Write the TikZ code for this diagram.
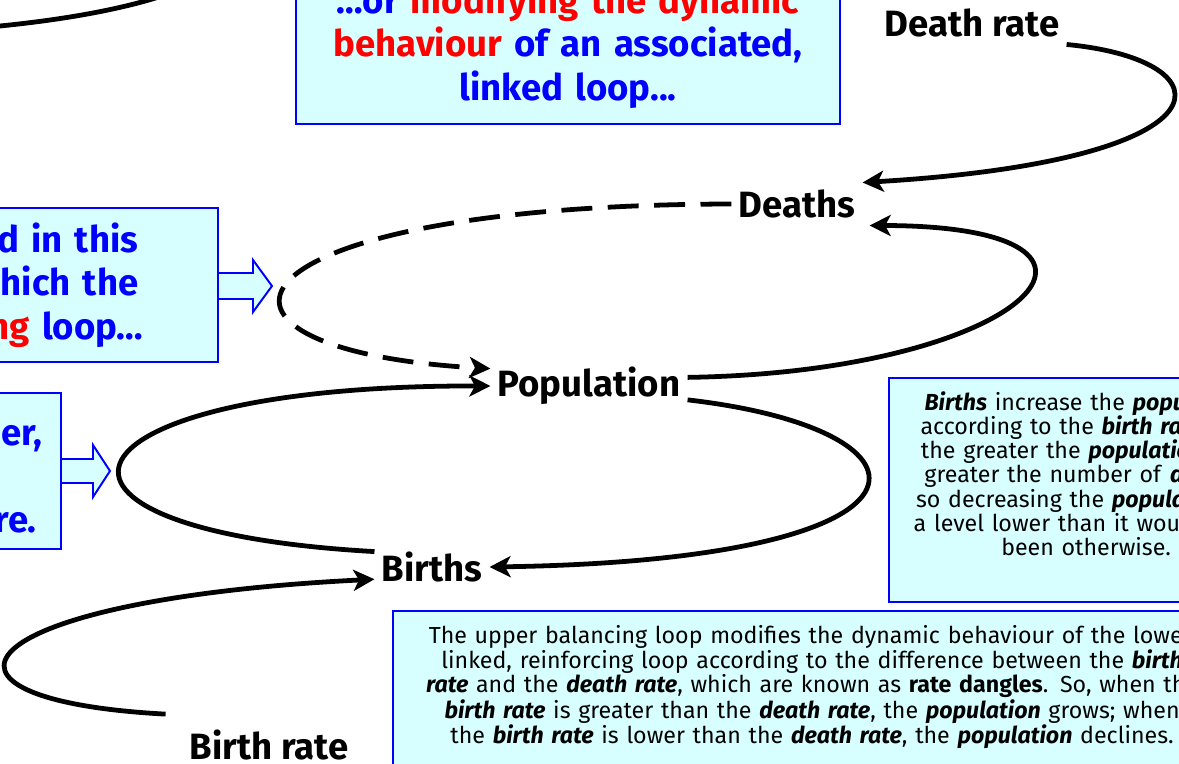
\documentclass[tikz,border=0pt]{standalone}
\usepackage{fontspec}
\setmainfont{Fira Sans}
\usetikzlibrary{arrows.meta}
\definecolor{notefill}{RGB}{216,255,255}
\definecolor{noteblue}{RGB}{0,0,255}
\definecolor{notered}{RGB}{255,0,0}
\tikzset{
	var/.style={font=\fontsize{26}{30}\selectfont\bfseries, inner sep=5pt}, % loop variables
	link/.style={-{Stealth[length=15pt,width=15pt,inset=4pt]}, line width=3.4pt},
	dangle/.style={link, dash pattern=on 22pt off 11pt}, % the dashed link
	callout/.style={draw=noteblue, fill=notefill, line width=1.4pt, align=center,
		text=noteblue, font=\fontsize{26}{31}\selectfont\bfseries},
	explain/.style={draw=noteblue, fill=notefill, line width=1.4pt, align=center,
		inner ysep=10pt, font=\fontsize{16.5}{16.3}\selectfont},
	pointer/.style={draw=noteblue, fill=notefill, line width=1.4pt, line join=miter}
}
\newcommand{\bi}[1]{\textbf{\textit{#1}}}

\begin{document}
\begin{tikzpicture}[x=0.025cm, y=-0.025cm]
	\useasboundingbox (0,0) rectangle (1179,764);
	\clip (0,0) rectangle (1179,764);

	% notes
	\node[callout, minimum width=13.6cm, minimum height=3.875cm, text width=13cm] (linked) at (568,46)
		{…or \textcolor{notered}{modifying the dynamic}\\\textcolor{notered}{behaviour} of an associated,\\linked loop...};
	\node[callout, anchor=east, minimum width=13.55cm, minimum height=3.85cm, text width=13cm] (upper) at (219,285)
		{as is illustrated in this\\structure, in which the\\upper, \textcolor{notered}{balancing} loop…};
	\node[callout, anchor=east, inner xsep=0pt, minimum height=3.9cm, text width=15.35cm] (lower) at (62,471)
		{\mbox{}\\Two loops can be linked together,\\as shown here,\\into one more complex structure.};
	\node[explain, anchor=north west, minimum width=9.85cm, text width=9.6cm,
		font=\fontsize{16.5}{17.1}\selectfont] (feedback) at (888,377)
		{\bi{Births} increase the \bi{population}\\according to the \bi{birth rate}; but\\the greater the \bi{population}, the\\greater the number of \bi{deaths},\\so decreasing the \bi{population} to\\a level lower than it would have\\been otherwise.\\[6pt]\mbox{}};
	\node[explain, anchor=north west, minimum width=20.95cm, text width=20.6cm] (dangles) at (392,610)
		{The upper balancing loop modifies the dynamic behaviour of the lower,\\linked, reinforcing loop according to the difference between the \bi{birth}\\\bi{rate} and the \bi{death rate}, which are known as \textbf{rate dangles}. So, when the\\\bi{birth rate} is greater than the \bi{death rate}, the \bi{population} grows; when\\the \bi{birth rate} is lower than the \bi{death rate}, the \bi{population} declines.\\[30pt]\mbox{}};

	% block arrows from the notes
	\draw[pointer] (upper.east) ++(0,-12) -- ++(34,0) -- ++(0,-13) -- ++(19,26) -- ++(-19,26) -- ++(0,-13) -- ++(-34,0);
	\draw[pointer] (lower.east) ++(0,-12) -- ++(31,0) -- ++(0,-14) -- ++(17,26) -- ++(-17,26) -- ++(0,-14) -- ++(-31,0);

	% variables
	\node[var] (deathrate) at (972,23) {Death rate};
	\node[var] (deaths) at (797,204) {Deaths};
	\node[var] (population) at (589,386) {Population};
	\node[var] (births) at (432,567) {Births};
	\node[var] (birthrate) at (269,745) {Birth rate};
	\coordinate (offleft) at (0,26);
	\coordinate (offtop) at (165,-5);

	% links
	\draw[line width=3.4pt] (offleft) .. controls (60,20) and (120,10) .. (offtop);
	\draw[link] (deathrate.south east) .. controls (1230,60) and (1240,160) .. (deaths.north east);
	\draw[link] (population.5) .. controls (1030,372) and (1165,226) .. ([xshift=5pt]deaths.south east);
	\draw[dangle] (deaths.west) .. controls (210,205) and (160,350) .. (population.170);
	\draw[link] (population.-8) .. controls (950,430) and (960,560) .. (births.east);
	\draw[link] (births.165) .. controls (-10,530) and (50,385) .. (population.west);
	\draw[link] ([xshift=-12pt,yshift=6pt]birthrate.north west) .. controls (-100,700) and (-40,600) .. (births.192);
\end{tikzpicture}
\end{document}
